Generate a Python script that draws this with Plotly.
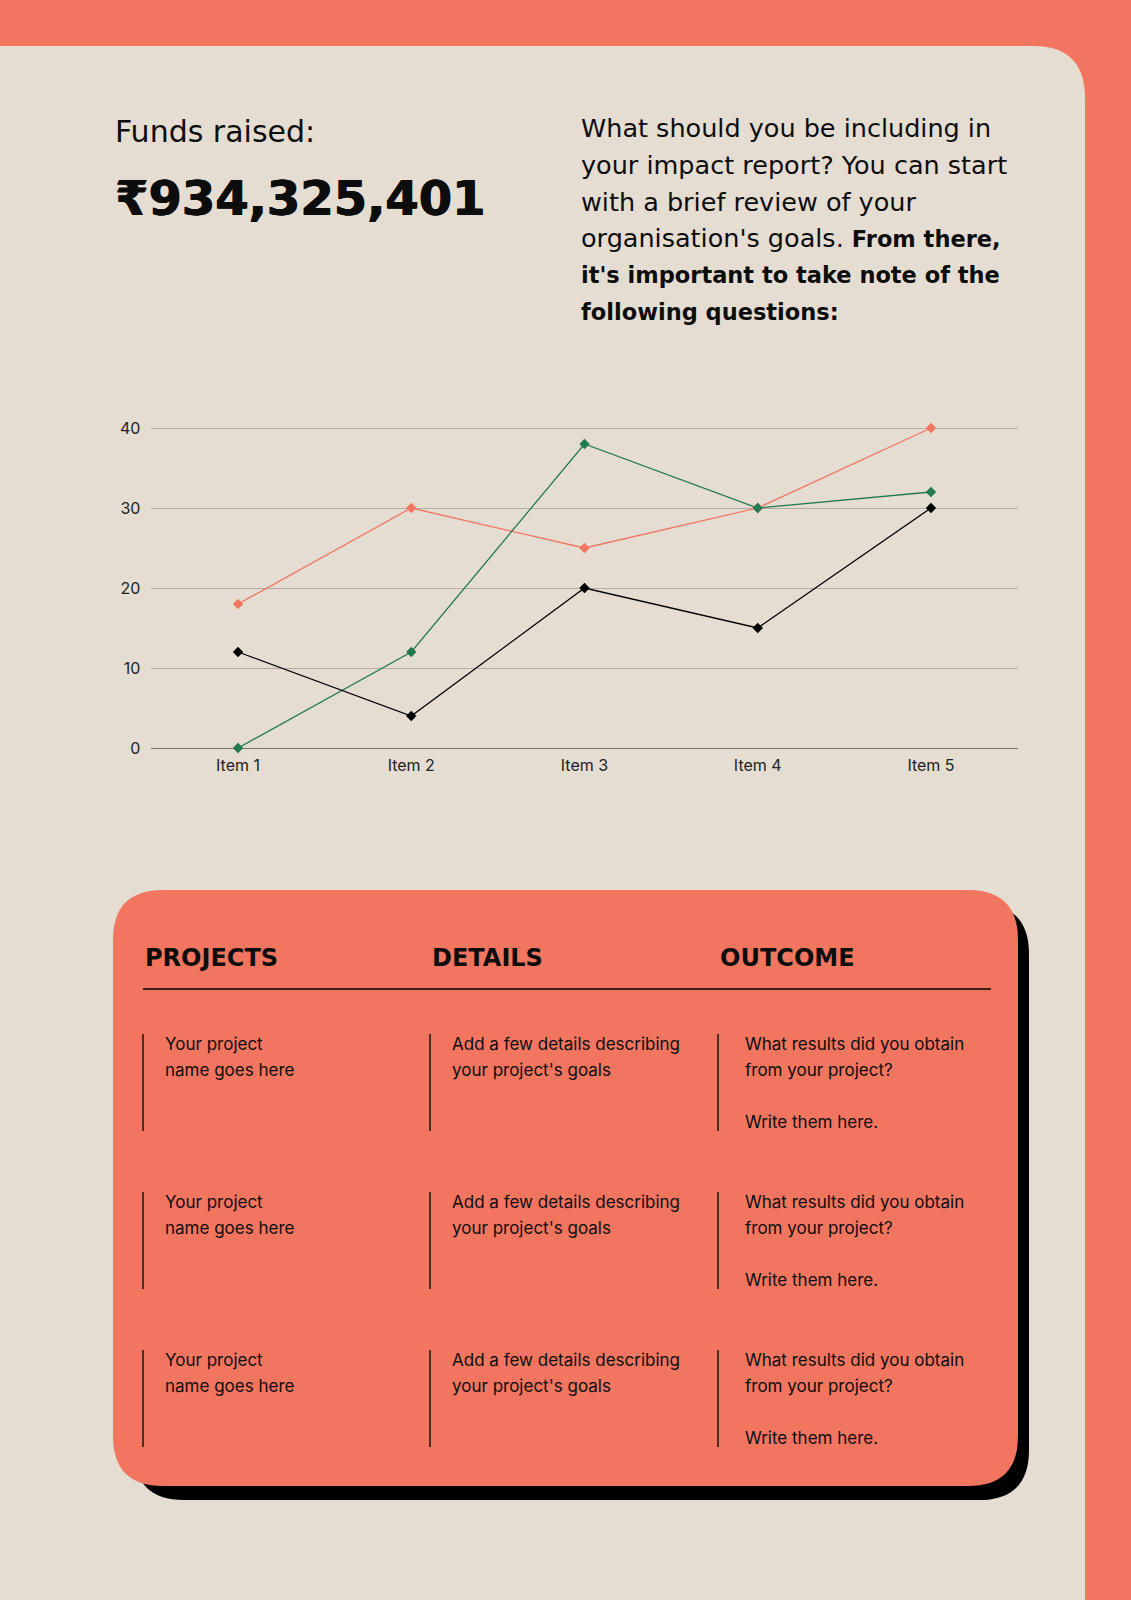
import plotly.graph_objects as go

W, H = 1131, 1600

# ---- data ----
categories = ["Item 1", "Item 2", "Item 3", "Item 4", "Item 5"]
series_orange = [18, 30, 25, 30, 40]
series_green = [0, 12, 38, 30, 32]
series_black = [12, 4, 20, 15, 30]
y_ticks = [0, 10, 20, 30, 40]

ORANGE = "#F27560"
BEIGE = "#E5DDD2"
GREEN = "#237A50"
BLACK = "#000000"
FONT = "Inter, Noto Sans, DejaVu Sans, sans-serif"
WIDE = "DejaVu Sans, Noto Sans, sans-serif"


def px(x):
    return x / W


def py(y):
    return 1 - y / H


def rounded_path(x0, y0, x1, y1, r_tl, r_tr, r_br, r_bl):
    def P(x, y):
        return f"{px(x):.6f},{py(y):.6f}"
    d = f"M {P(x0 + r_tl, y0)} L {P(x1 - r_tr, y0)} "
    d += f"Q {P(x1, y0)} {P(x1, y0 + r_tr)} " if r_tr else ""
    d += f"L {P(x1, y1 - r_br)} "
    d += f"Q {P(x1, y1)} {P(x1 - r_br, y1)} " if r_br else ""
    d += f"L {P(x0 + r_bl, y1)} "
    d += f"Q {P(x0, y1)} {P(x0, y1 - r_bl)} " if r_bl else ""
    d += f"L {P(x0, y0 + r_tl)} "
    d += f"Q {P(x0, y0)} {P(x0 + r_tl, y0)} " if r_tl else ""
    d += "Z"
    return d


fig = go.Figure()

for vals, col in [(series_orange, ORANGE), (series_green, GREEN), (series_black, BLACK)]:
    fig.add_trace(go.Scatter(
        x=categories, y=vals, mode="lines+markers",
        line=dict(color=col, width=1.3),
        marker=dict(symbol="diamond", size=8, color=col),
        cliponaxis=False, showlegend=False, hoverinfo="skip",
    ))

shapes = []
# beige panel
shapes.append(dict(type="path", xref="paper", yref="paper",
                   path=rounded_path(-2, 46, 1085, 1640, 0, 52, 0, 0),
                   fillcolor=BEIGE, line=dict(width=0), layer="below"))
# table shadow
shapes.append(dict(type="path", xref="paper", yref="paper",
                   path=rounded_path(134, 904, 1029, 1500, 50, 50, 50, 50),
                   fillcolor=BLACK, line=dict(width=0), layer="below"))
# table card
shapes.append(dict(type="path", xref="paper", yref="paper",
                   path=rounded_path(113, 890, 1018, 1486, 50, 50, 50, 50),
                   fillcolor=ORANGE, line=dict(width=0), layer="below"))
# header rule
shapes.append(dict(type="line", xref="paper", yref="paper",
                   x0=px(143), x1=px(991), y0=py(989), y1=py(989),
                   line=dict(color=BLACK, width=1.5)))

annotations = []


def text(x, y, s, size, bold=False, family=FONT, heavy=False):
    font = dict(family=family, size=size, color="#0d0d0d")
    if heavy:
        font["shadow"] = "0.7px 0 0 #0d0d0d, -0.5px 0 0 #0d0d0d"
    annotations.append(dict(
        xref="paper", yref="paper", x=px(x), y=py(y), text=(f"<b>{s}</b>" if bold else s),
        showarrow=False, xanchor="left", yanchor="middle", font=font,
    ))


def bold_small(s):
    return f"<b><span style='font-size:22.5px'>{s}</span></b>"


text(113, 131, "Funds raised:", 30, family=WIDE)
text(113, 198, "₹934,325,401", 48, bold=True, family=WIDE, heavy=True)

para = [
    "What should you be including in",
    "your impact report? You can start",
    "with a brief review of your",
    "organisation's goals. " + bold_small("From there,"),
    bold_small("it's important to take note of the"),
    bold_small("following questions:"),
]
for i, line in enumerate(para):
    text(579, 128 + i * 36.8, line, 25.5, family=WIDE)

headers = ["PROJECTS", "DETAILS", "OUTCOME"]
col_x = [143, 430, 718]
for hx, h in zip(col_x, headers):
    text(hx, 958, h, 24, bold=True, family=WIDE)

col1 = ["Your project", "name goes here"]
col2 = ["Add a few details describing", "your project's goals"]
col3 = ["What results did you obtain", "from your project?", "", "Write them here."]
row_tops = [1034, 1192, 1350]
for rt in row_tops:
    for cx, lines in zip(col_x, [col1, col2, col3]):
        shapes.append(dict(type="line", xref="paper", yref="paper",
                           x0=px(cx), x1=px(cx), y0=py(rt), y1=py(rt + 97),
                           line=dict(color=BLACK, width=1.3)))
        off = 20 if cx != 718 else 25
        for j, ln in enumerate(lines):
            if ln:
                text(cx + off, rt + 10 + j * 26, ln, 17)

fig.update_layout(
    width=W, height=H, margin=dict(l=0, r=0, t=0, b=0, pad=0, autoexpand=False),
    paper_bgcolor=ORANGE, plot_bgcolor="rgba(0,0,0,0)",
    shapes=shapes, annotations=annotations,
    xaxis=dict(domain=[px(151.4), px(1017.6)], range=[-0.5, 4.5],
               showgrid=False, zeroline=False, automargin=False,
               showline=False, ticks="", ticklabelstandoff=6,
               tickfont=dict(family=FONT, size=16, color="#222222"), fixedrange=True),
    yaxis=dict(domain=[py(748), py(426.4)], range=[0, 40.2], tickvals=y_ticks,
               showgrid=True, gridcolor="#B3ADA5", gridwidth=1, automargin=False,
               zeroline=True, zerolinecolor="#77726C", zerolinewidth=1.2,
               showline=False, ticks="", ticklabelstandoff=10,
               tickfont=dict(family=FONT, size=16, color="#222222"), fixedrange=True),
)

fig.write_html("out.html", config={"displayModeBar": False},
               post_script="document.body.style.margin='0';document.body.style.overflow='hidden';")
